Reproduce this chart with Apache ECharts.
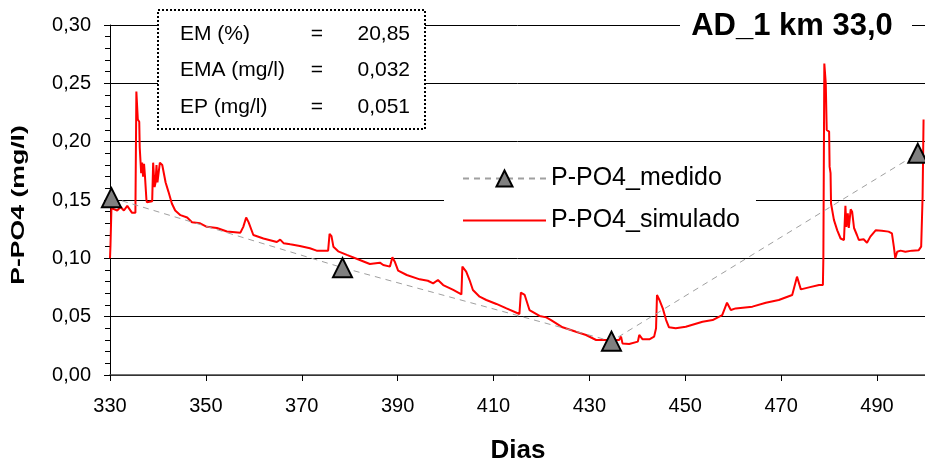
<!DOCTYPE html>
<html>
<head>
<meta charset="utf-8">
<script src="https://cdn.jsdelivr.net/npm/echarts@6/dist/echarts.min.js"></script>
<style>
html,body{margin:0;padding:0;background:#fff;}
#chart{width:925px;height:464px;}
</style>
</head>
<body>
<div id="chart"></div>
<script>
// ---- Data ----
const chartTitle = 'AD_1 km 33,0';
const xAxisTitle = 'Dias';
const yAxisTitle = 'P-PO4 (mg/l)';
const seriesNames = ['P-PO4_medido', 'P-PO4_simulado'];
const statLabels = ['EM (%)', 'EMA (mg/l)', 'EP (mg/l)'];
const statValues = ['20,85', '0,032', '0,051'];

const measDays = [330.3, 378.5, 434.6, 498.5];
const measValues = [0.152, 0.092, 0.029, 0.190];

const simDays = [
  330.0, 330.1, 330.3, 331.5, 332.2, 332.9, 333.6, 334.6, 335.3, 335.5,
  335.6, 335.8, 336.1, 336.2, 336.5, 336.7, 336.9, 337.1, 337.3, 337.6,
  337.7, 338.8, 339.0, 339.3, 339.5, 339.7, 339.9, 340.1, 340.4, 340.9,
  341.6, 342.2, 342.9, 343.6, 344.7, 346.1, 347.1, 348.8, 350.2, 352.3,
  354.4, 357.2, 357.8, 358.4, 358.9, 359.9, 362.0, 364.8, 365.5, 366.2,
  367.6, 369.6, 371.7, 373.1, 375.5, 375.8, 376.2, 376.6, 377.6, 379.4,
  382.1, 384.2, 386.3, 387.0, 388.4, 388.9, 389.4, 390.1, 391.9, 394.6,
  396.3, 397.4, 398.4, 399.5, 401.6, 403.3, 403.5, 404.3, 405.0, 405.7,
  407.1, 408.5, 410.6, 412.7, 415.4, 415.7, 416.5, 417.5, 419.6, 421.0,
  422.0, 424.4, 427.2, 429.3, 431.4, 433.5, 436.2, 436.6, 436.9, 438.3,
  440.1, 440.4, 441.1, 442.5, 443.5, 443.9, 444.1, 444.6, 445.3, 446.0,
  446.6, 448.0, 450.1, 453.6, 455.7, 457.7, 458.7, 459.5, 460.5, 464.0,
  466.8, 469.5, 472.3, 473.3, 474.1, 475.8, 477.9, 478.7, 478.8, 479.0,
  479.3, 479.5, 480.0, 480.1, 480.3, 480.4, 480.8, 481.0, 481.7, 482.4,
  483.1, 483.4, 483.6, 483.9, 484.1, 484.5, 484.8, 485.2, 485.8, 486.2,
  487.2, 487.9, 488.6, 489.7, 491.0, 492.4, 493.1, 493.5, 493.8, 494.2,
  494.9, 495.9, 497.3, 498.7, 499.2, 499.5, 499.7
];
const simValues = [
  0.100, 0.111, 0.143, 0.141, 0.144, 0.141, 0.145, 0.139, 0.139, 0.243,
  0.243, 0.219, 0.217, 0.195, 0.173, 0.182, 0.170, 0.181, 0.170, 0.150,
  0.148, 0.149, 0.182, 0.161, 0.165, 0.180, 0.165, 0.166, 0.182, 0.180,
  0.165, 0.157, 0.147, 0.141, 0.137, 0.135, 0.131, 0.130, 0.127, 0.126,
  0.123, 0.122, 0.127, 0.135, 0.131, 0.120, 0.117, 0.114, 0.116, 0.113,
  0.112, 0.1106, 0.1086, 0.1066, 0.1066, 0.121, 0.119, 0.110, 0.106, 0.103,
  0.0986, 0.0951, 0.0963, 0.0943, 0.0929, 0.1009, 0.0971, 0.0894, 0.0857, 0.082,
  0.0808, 0.0786, 0.0814, 0.0771, 0.0729, 0.0691, 0.0929, 0.0886, 0.0814, 0.0729,
  0.0671, 0.0643, 0.0609, 0.0571, 0.0523, 0.0706, 0.0686, 0.0557, 0.0506, 0.0494,
  0.0471, 0.0409, 0.0371, 0.0343, 0.030, 0.030, 0.030, 0.0329, 0.0271, 0.0266,
  0.0286, 0.0343, 0.0306, 0.0306, 0.0329, 0.040, 0.0686, 0.0643, 0.0571, 0.0471,
  0.0409, 0.040, 0.0414, 0.0457, 0.0471, 0.0514, 0.062, 0.0557, 0.0571, 0.0586,
  0.062, 0.0643, 0.0686, 0.0843, 0.0734, 0.0751, 0.0771, 0.0771, 0.100, 0.267,
  0.250, 0.210, 0.2086, 0.1786, 0.173, 0.147, 0.147, 0.133, 0.124, 0.117,
  0.1157, 0.145, 0.127, 0.1386, 0.126, 0.142, 0.140, 0.126, 0.120, 0.1157,
  0.1163, 0.1134, 0.1186, 0.124, 0.1237, 0.1229, 0.1214, 0.110, 0.100, 0.1057,
  0.1066, 0.1057, 0.1066, 0.107, 0.110, 0.153, 0.219
];

const xMin = 330, xMax = 500, xInterval = 20;
const yMin = 0, yMax = 0.30, yInterval = 0.05;

// ---- Chart ----
const FONT = 'Arial, "Liberation Sans", sans-serif';
const chart = echarts.init(document.getElementById('chart'), null, {renderer: 'canvas'});

const statGraphics = [];
statLabels.forEach((lab, i) => {
  const cy = 34 + i * 36.5;
  statGraphics.push({type: 'text', x: 180, y: cy, z: 101,
    style: {text: lab, fontSize: 21, fontFamily: FONT, fill: '#000', align: 'left', verticalAlign: 'middle', textAlign: 'left', textVerticalAlign: 'middle'}});
  statGraphics.push({type: 'text', x: 317, y: cy, z: 101,
    style: {text: '=', fontSize: 21, fontFamily: FONT, fill: '#000', align: 'center', verticalAlign: 'middle', textAlign: 'center', textVerticalAlign: 'middle'}});
  statGraphics.push({type: 'text', x: 410, y: cy, z: 101,
    style: {text: statValues[i], fontSize: 21, fontFamily: FONT, fill: '#000', align: 'right', verticalAlign: 'middle', textAlign: 'right', textVerticalAlign: 'middle'}});
});

chart.setOption({
  animation: false,
  backgroundColor: '#fff',
  grid: {left: 110, right: -1, top: 25, bottom: 89, containLabel: false},
  xAxis: {
    type: 'value', min: xMin, max: xMax, interval: xInterval,
    axisLine: {show: true, onZero: false, lineStyle: {color: '#444', width: 1.5}},
    axisTick: {show: true, inside: false, length: 6, lineStyle: {color: '#000'}},
    axisLabel: {fontSize: 20, fontFamily: FONT, color: '#000', margin: 21, showMaxLabel: false,
      formatter: v => String(Math.round(v))},
    splitLine: {show: false}
  },
  yAxis: {
    type: 'value', min: yMin, max: yMax, interval: yInterval,
    axisLine: {show: true, lineStyle: {color: '#000', width: 1}},
    axisTick: {show: true, inside: false, length: 6, lineStyle: {color: '#000'}},
    minorTick: {show: true, splitNumber: 5, length: 5, lineStyle: {color: '#000'}},
    axisLabel: {fontSize: 20, fontFamily: FONT, color: '#000', margin: 19,
      formatter: v => v.toFixed(2).replace('.', ',')},
    splitLine: {show: true, lineStyle: {color: '#000', width: 1}}
  },
  legend: {
    show: true, orient: 'vertical', left: 444, top: 157,
    padding: [9, 16, 9, 18], backgroundColor: '#fff',
    itemWidth: 83, itemHeight: 20, itemGap: 17,
    textStyle: {fontSize: 25, fontFamily: FONT, color: '#000', lineHeight: 24},
    data: [seriesNames[0], {name: seriesNames[1], itemStyle: {opacity: 0}}]
  },
  graphic: [
    {type: 'rect', z: 100, shape: {x: 158, y: 10, width: 267, height: 119},
      style: {fill: '#fff', stroke: '#000', lineWidth: 2, lineDash: [2, 2]}},
    ...statGraphics,
    {type: 'rect', z: 100, shape: {x: 680, y: 8, width: 232, height: 36}, style: {fill: '#fff'}},
    {type: 'text', x: 792, y: 26, z: 101,
      style: {text: chartTitle, fontSize: 31, fontWeight: 'bold', fontFamily: FONT, fill: '#000',
        align: 'center', verticalAlign: 'middle', textAlign: 'center', textVerticalAlign: 'middle'}},
    {type: 'text', x: 19, y: 205, rotation: Math.PI / 2, scaleX: 1.4, z: 101,
      style: {text: yAxisTitle, fontSize: 19, fontWeight: 'bold', fontFamily: FONT, fill: '#000',
        align: 'center', verticalAlign: 'middle', textAlign: 'center', textVerticalAlign: 'middle'}},
    {type: 'text', x: 518, y: 451, z: 101,
      style: {text: xAxisTitle, fontSize: 26, fontWeight: 'bold', fontFamily: FONT, fill: '#000',
        align: 'center', verticalAlign: 'middle', textAlign: 'center', textVerticalAlign: 'middle'}}
  ],
  series: [
    {
      name: seriesNames[0], type: 'line', z: 4,
      data: measDays.map((d, i) => [d, measValues[i]]),
      symbol: 'triangle', symbolSize: 19,
      lineStyle: {color: '#a0a0a0', width: 1, type: [6, 5]},
      itemStyle: {color: '#808080', borderColor: '#000', borderWidth: 2}
    },
    {
      name: seriesNames[1], type: 'line', z: 3,
      data: simDays.map((d, i) => [d, simValues[i]]),
      symbol: 'none', showSymbol: false,
      lineStyle: {color: '#ff0000', width: 2},
      itemStyle: {color: '#ff0000'}
    }
  ]
});
</script>
</body>
</html>
